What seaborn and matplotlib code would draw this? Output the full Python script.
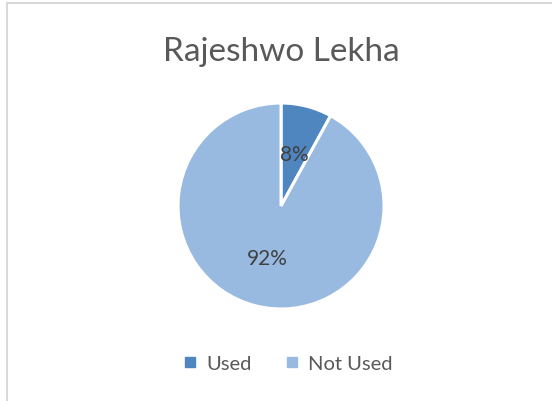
import matplotlib
matplotlib.use("Agg")
import matplotlib.pyplot as plt
import seaborn as sns
from matplotlib.lines import Line2D

categories = ["Used", "Not Used"]
values = [8, 92]
colors = ["#4F86C0", "#98B9E0"]
title = "Rajeshwo Lekha"

sns.set_theme(style="white")
plt.rcParams["font.family"] = ["Lato", "DejaVu Sans"]

fig = plt.figure(figsize=(5.52, 4.02), dpi=100)
ax = fig.add_axes([0.3225, 0.2289, 0.3732, 0.5124])

wedges, texts, autotexts = ax.pie(
    values,
    colors=colors,
    startangle=90,
    counterclock=False,
    autopct="%1.0f%%",
    pctdistance=0.52,
    wedgeprops=dict(edgecolor="white", linewidth=2.2),
    textprops=dict(color="#404040", fontsize=15),
)
ax.set_xlim(-1, 1)
ax.set_ylim(-1, 1)
ax.set_aspect("equal")

fig.text(0.509, 0.87, title, ha="center", va="center", fontsize=24, color="#595959")

handles = [Line2D([0], [0], marker="s", linestyle="none", markersize=7,
                  markerfacecolor=c, markeredgecolor=c) for c in colors]
fig.legend(handles, categories, loc="center", bbox_to_anchor=(0.522, 0.093),
           ncol=2, frameon=False, fontsize=14.5, handlelength=0.6, handletextpad=0.5,
           columnspacing=1.7, labelcolor="#595959")

# chart area border (top and left edges visible)
fig.add_artist(Line2D([7 / 552, 1], [1 - 4 / 402, 1 - 4 / 402], color="#D9D9D9", linewidth=1.5,
                      transform=fig.transFigure))
fig.add_artist(Line2D([7 / 552, 7 / 552], [0, 1 - 4 / 402], color="#D9D9D9", linewidth=1.5,
                      transform=fig.transFigure))

fig.savefig("out.png", dpi=100, facecolor="white")
